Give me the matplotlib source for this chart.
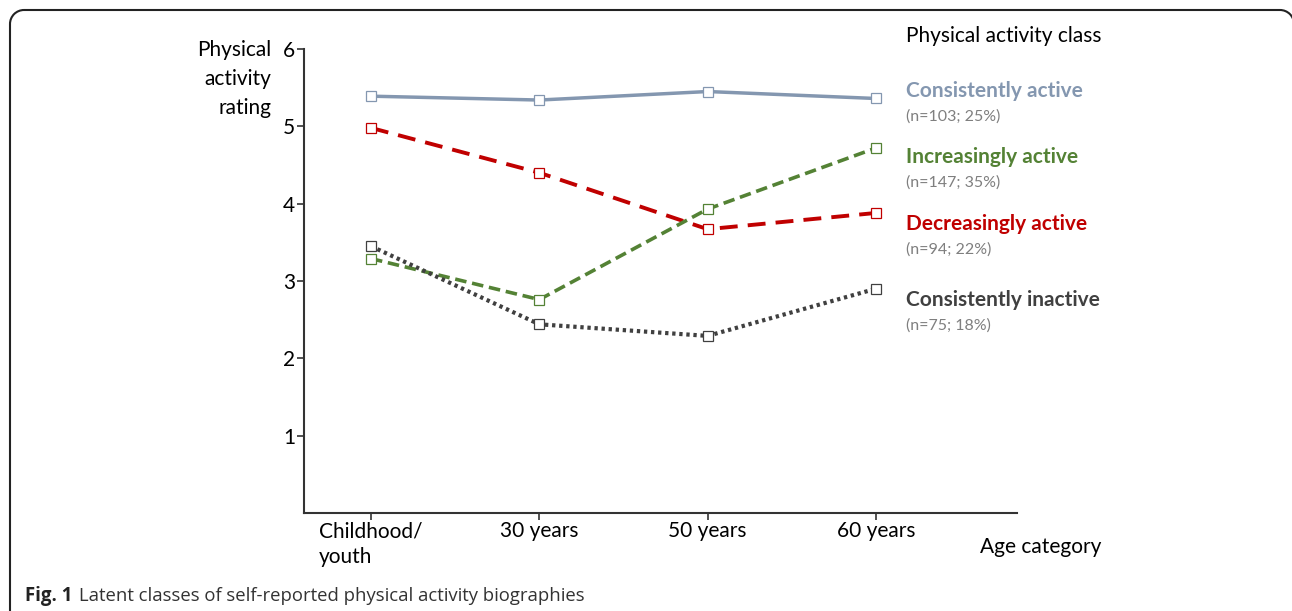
import matplotlib
matplotlib.use("Agg")
import matplotlib.pyplot as plt
from matplotlib.patches import Arc

# data
ageLabels = ["Childhood/\nyouth", "30 years", "50 years", "60 years"]
consistentlyActive = [5.39, 5.34, 5.45, 5.36]
increasinglyActive = [3.29, 2.76, 3.93, 4.72]
decreasinglyActive = [4.98, 4.40, 3.67, 3.88]
consistentlyInactive = [3.45, 2.44, 2.29, 2.90]
classNames = ["Consistently active", "Increasingly active", "Decreasingly active", "Consistently inactive"]
classCounts = ["(n=103; 25%)", "(n=147; 35%)", "(n=94; 22%)", "(n=75; 18%)"]

plt.rcParams['font.family'] = ['Lato', 'DejaVu Sans']

W, H = 1292, 611
fig = plt.figure(figsize=(W / 100, H / 100), dpi=100)

def fx(px):
    return px / W

def fy(py):
    return 1 - py / H

# overlay in pixel units for the rounded frame (only top and left sides show)
bg = fig.add_axes([0, 0, 1, 1], zorder=-1)
bg.set_xlim(0, W)
bg.set_ylim(H, 0)
bg.axis("off")
r = 14
frameKw = dict(color="#222222", lw=1.5, solid_capstyle="butt")
bg.plot([10, 10], [10 + r, H + 5], **frameKw)
bg.plot([10 + r, 1294 - r], [10, 10], **frameKw)
bg.add_patch(Arc((10 + r, 10 + r), 2 * r, 2 * r, theta1=180, theta2=270,
                 color="#222222", lw=1.5))
bg.add_patch(Arc((1294 - r, 10 + r), 2 * r, 2 * r, theta1=270, theta2=360,
                 color="#222222", lw=1.5))

ax = fig.add_axes([fx(304), fy(513), fx(1017) - fx(304), fy(49) - fy(513)])
x = range(len(ageLabels))

series = [
    (consistentlyActive, "#8497B0", "-", 2.5),
    (decreasinglyActive, "#C00000", (0, (4.6, 2.6)), 2.8),
    (increasinglyActive, "#548235", (0, (3.2, 1.6)), 2.6),
    (consistentlyInactive, "#404040", (0, (0.8, 0.9)), 3.0),
]
for vals, col, ls, lw in series:
    ax.plot(x, vals, color=col, linestyle=ls, linewidth=lw, marker="s", markersize=7.5,
            markerfacecolor="white", markeredgecolor=col, markeredgewidth=0.9)

ax.set_xlim(-0.398, 3.838)
ax.set_ylim(0, 6)
ax.set_yticks([1, 2, 3, 4, 5, 6])
ax.set_xticks(list(x))
ax.set_xticklabels(ageLabels, fontsize=15, multialignment="left", linespacing=1.35)
ax.tick_params(axis="both", labelsize=15, length=5, width=1.2, color="#333333", pad=1.5)
ax.tick_params(axis="x", pad=1)
for s in ["top", "right"]:
    ax.spines[s].set_visible(False)
for s in ["left", "bottom"]:
    ax.spines[s].set_linewidth(1.5)
    ax.spines[s].set_color("#333333")

fig.text(fx(271), fy(40), "Physical\nactivity\nrating", ha="right", va="top",
         fontsize=15, linespacing=1.55, multialignment="right")
fig.text(fx(980), fy(547), "Age category", ha="left", va="center", fontsize=15)

# legend text
fig.text(fx(906), fy(36), "Physical activity class", ha="left", va="center", fontsize=15)
colors = ["#8497B0", "#548235", "#C00000", "#404040"]
nameY = [91, 157, 224, 300]
for name, cnt, col, yy in zip(classNames, classCounts, colors, nameY):
    fig.text(fx(906), fy(yy), name, ha="left", va="center", fontsize=15,
             fontweight="bold", color=col)
    fig.text(fx(906), fy(yy + 26), cnt, ha="left", va="center", fontsize=11.5,
             color="#7f7f7f")

# caption
capFont = ["Open Sans", "DejaVu Sans"]
figLabel = fig.text(fx(25), fy(596), "Fig. 1", ha="left", va="center", fontsize=13.4,
                    fontweight="bold", family=capFont, color="#222222")
renderer = fig.canvas.get_renderer()
bb = figLabel.get_window_extent(renderer)
fig.text(fx(bb.x1 + 7), fy(596), "Latent classes of self-reported physical activity biographies",
         ha="left", va="center", fontsize=13.3, family=capFont, color="#333333")

fig.savefig("out.png", dpi=100)
